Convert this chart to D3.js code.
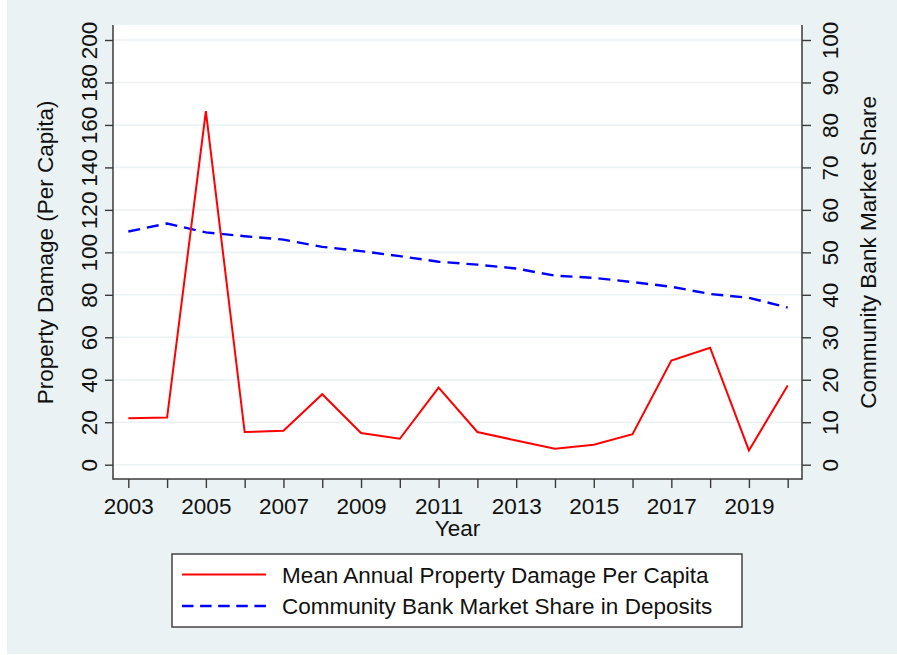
<!DOCTYPE html>
<html>
<head>
<meta charset="utf-8">
<script src="https://cdn.jsdelivr.net/npm/d3@7"></script>
<style>
  html, body { margin: 0; padding: 0; background: #ffffff; }
  svg { display: block; }
  text { font-family: "Liberation Sans", Arial, sans-serif; fill: #111111; }
</style>
</head>
<body>
<svg id="chart" width="897" height="655"></svg>
<script>
// Years on the horizontal axis
const years = [2003, 2004, 2005, 2006, 2007, 2008, 2009, 2010, 2011, 2012,
               2013, 2014, 2015, 2016, 2017, 2018, 2019, 2020];
// Mean annual property damage per capita (left axis)
const damage = [21.9, 22.2, 166.5, 15.4, 16.0, 33.2, 14.9, 12.2, 36.3, 15.4,
                11.4, 7.5, 9.4, 14.4, 49.0, 55.1, 6.7, 37.3];
// Community bank market share in deposits, percent (right axis)
const share = [54.9, 56.8, 54.7, 53.8, 53.0, 51.3, 50.3, 49.1, 47.8, 47.1,
               46.2, 44.5, 44.0, 43.0, 41.9, 40.2, 39.3, 37.0];
// Tick values
const leftTicks = [0, 20, 40, 60, 80, 100, 120, 140, 160, 180, 200];
const rightTicks = [0, 10, 20, 30, 40, 50, 60, 70, 80, 90, 100];
const xLabelYears = [2003, 2005, 2007, 2009, 2011, 2013, 2015, 2017, 2019];
// Text
const leftTitle = "Property Damage (Per Capita)";
const rightTitle = "Community Bank Market Share";
const xTitle = "Year";
const legendLabels = ["Mean Annual Property Damage Per Capita",
                      "Community Bank Market Share in Deposits"];

const svg = d3.select("#chart");
const bg = "#eaf2f3";
const axisColor = "#3a3a3a";
const fs = 22.5;      // font size

// plot region edges
const P = { left: 113, right: 802, top: 25, bottom: 479 };

const x = d3.scaleLinear().domain([2003, 2020]).range([128.3, 787.7]);
const yL = d3.scaleLinear().domain([0, 200]).range([464.7, 40]);
const yR = d3.scaleLinear().domain([0, 100]).range([464.7, 40]);

// graph region background
svg.append("rect").attr("x", 7).attr("y", 0).attr("width", 890).attr("height", 654)
  .attr("fill", bg);
// plot region
svg.append("rect").attr("x", P.left).attr("y", P.top)
  .attr("width", P.right - P.left).attr("height", P.bottom - P.top)
  .attr("fill", "#ffffff");

// horizontal grid lines
svg.append("g").selectAll("line").data(leftTicks).join("line")
  .attr("x1", P.left).attr("x2", P.right)
  .attr("y1", d => yL(d)).attr("y2", d => yL(d))
  .attr("stroke", bg).attr("stroke-width", 1.6);

function styleAxis(g) {
  g.select(".domain").remove();
  g.selectAll(".tick line").attr("stroke", axisColor).attr("stroke-width", 1.4);
  g.selectAll(".tick text").attr("x", null).attr("y", null).attr("dy", null)
    .style("font-size", fs + "px").attr("fill", "#111");
}

// left axis
const gL = svg.append("g").attr("transform", `translate(${P.left},0)`)
  .call(d3.axisLeft(yL).tickValues(leftTicks).tickSize(8).tickFormat(d3.format("d")));
styleAxis(gL);
gL.selectAll(".tick text").attr("text-anchor", "middle")
  .attr("transform", "translate(-16,0) rotate(-90)");

// right axis
const gR = svg.append("g").attr("transform", `translate(${P.right},0)`)
  .call(d3.axisRight(yR).tickValues(rightTicks).tickSize(9).tickFormat(d3.format("d")));
styleAxis(gR);
gR.selectAll(".tick text").attr("text-anchor", "middle")
  .attr("transform", "translate(36,0) rotate(-90)");

// bottom axis
const gB = svg.append("g").attr("transform", `translate(0,${P.bottom})`)
  .call(d3.axisBottom(x).tickValues(years).tickSize(9)
    .tickFormat(d => xLabelYears.includes(d) ? String(d) : ""));
styleAxis(gB);
gB.selectAll(".tick text").attr("text-anchor", "middle")
  .attr("transform", "translate(0,35)");

// axis lines
const frame = svg.append("g").attr("stroke", axisColor).attr("stroke-width", 1.5);
frame.append("line").attr("x1", P.left).attr("x2", P.left).attr("y1", P.top).attr("y2", P.bottom + 0.75);
frame.append("line").attr("x1", P.right).attr("x2", P.right).attr("y1", P.top).attr("y2", P.bottom + 0.75);
frame.append("line").attr("x1", P.left).attr("x2", P.right).attr("y1", P.bottom).attr("y2", P.bottom);

// axis titles
svg.append("text").attr("text-anchor", "middle").style("font-size", fs + "px")
  .attr("transform", `translate(53,${(yL(0) + yL(200)) / 2}) rotate(-90)`)
  .text(leftTitle);
svg.append("text").attr("text-anchor", "middle").style("font-size", fs + "px")
  .attr("transform", `translate(876,${(yR(0) + yR(100)) / 2}) rotate(-90)`)
  .text(rightTitle);
svg.append("text").attr("text-anchor", "middle").style("font-size", fs + "px")
  .attr("transform", `translate(${(P.left + P.right) / 2},536)`)
  .text(xTitle);

// data lines
const damageLine = d3.line().x((d, i) => x(years[i])).y(d => yL(d));
const shareLine = d3.line().x((d, i) => x(years[i])).y(d => yR(d));

svg.append("path").datum(share).attr("d", shareLine)
  .attr("fill", "none").attr("stroke", "#0000ff").attr("stroke-width", 2.4)
  .attr("stroke-dasharray", "12,7");
svg.append("path").datum(damage).attr("d", damageLine)
  .attr("fill", "none").attr("stroke", "#ff0000").attr("stroke-width", 2)
  .attr("stroke-linejoin", "miter");

// legend
const lg = svg.append("g");
lg.append("rect").attr("x", 172).attr("y", 554).attr("width", 570).attr("height", 73)
  .attr("fill", "#ffffff").attr("stroke", "#444").attr("stroke-width", 1.5);
const legendRows = [
  { y: 574.5, color: "#ff0000", dash: null, width: 2, label: legendLabels[0] },
  { y: 606, color: "#0000ff", dash: "11.5,6.6", width: 2.4, label: legendLabels[1] }
];
legendRows.forEach(r => {
  lg.append("line").attr("x1", 182).attr("x2", 266).attr("y1", r.y).attr("y2", r.y)
    .attr("stroke", r.color).attr("stroke-width", r.width)
    .attr("stroke-dasharray", r.dash);
  lg.append("text").style("font-size", fs + "px")
    .attr("transform", `translate(282,${r.y + 8}) `)
    .text(r.label);
});
</script>
</body>
</html>
